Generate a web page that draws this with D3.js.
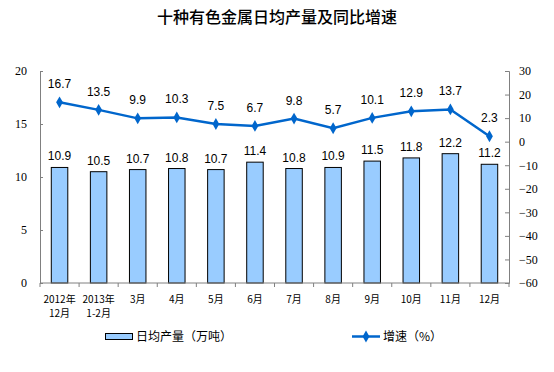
<!DOCTYPE html>
<html><head><meta charset="utf-8">
<script src="https://cdn.jsdelivr.net/npm/d3@7"></script>
<style>body{margin:0;background:#fff}</style>
</head><body>
<svg id="c" width="554" height="372"></svg>
<script>
const categories = [["2012年","12月"],["2013年","1-2月"],["3月"],["4月"],["5月"],["6月"],["7月"],["8月"],["9月"],["10月"],["11月"],["12月"]];
const output = [10.9,10.5,10.7,10.8,10.7,11.4,10.8,10.9,11.5,11.8,12.2,11.2];
const growth = [16.7,13.5,9.9,10.3,7.5,6.7,9.8,5.7,10.1,12.9,13.7,2.3];
const leftTicks = [0,5,10,15,20];
const rightTicks = [30,20,10,0,-10,-20,-30,-40,-50,-60];

const svg = d3.select("#c");
const L = 40, R = 509, T = 71, B = 283;
const idx = d3.range(categories.length);
const x = d3.scaleBand().domain(idx).range([L, R]).paddingInner(0).paddingOuter(0);
const yL = d3.scaleLinear().domain([0,20]).range([B,T]);
const yR = d3.scaleLinear().domain([-60,30]).range([B,T]);
const gray = "#808080";
const blue = "#0066CC";

svg.append("text").attr("x",277).attr("y",23).attr("text-anchor","middle")
  .attr("font-family","'Noto Sans CJK SC'").attr("font-size",16).attr("font-weight",500)
  .attr("fill","#000").text("十种有色金属日均产量及同比增速");

// bars
const bw = 16.5;
svg.selectAll("rect.bar").data(output).enter().append("rect")
  .attr("x",(d,i)=>x(i)+x.bandwidth()/2-bw/2).attr("y",d=>yL(d))
  .attr("width",bw).attr("height",d=>B-yL(d))
  .attr("fill","#99CCFF").attr("stroke","#000").attr("stroke-width",1);

svg.selectAll("text.bl").data(output).enter().append("text")
  .attr("x",(d,i)=>x(i)+x.bandwidth()/2).attr("y",d=>yL(d)-7)
  .attr("text-anchor","middle").attr("font-family","'Liberation Sans',Arial").attr("font-size",12)
  .attr("fill","#000").text(d=>d.toFixed(1));

// left axis
const gL = svg.append("g").attr("transform",`translate(${L},0)`)
  .call(d3.axisRight(yL).tickValues(leftTicks).tickSize(3).tickFormat(d3.format("d")));
gL.select(".domain").attr("stroke",gray);
gL.selectAll(".tick line").attr("stroke",gray);
gL.selectAll(".tick text").attr("x",-13).attr("text-anchor","end")
  .attr("font-family","'Liberation Serif','Times New Roman'").attr("font-size",12).attr("fill","#000");

// right axis
const gR = svg.append("g").attr("transform",`translate(${R},0)`)
  .call(d3.axisLeft(yR).tickValues(rightTicks).tickSize(4).tickFormat(d3.format("d")));
gR.select(".domain").attr("stroke",gray);
gR.selectAll(".tick line").attr("stroke",gray);
gR.selectAll(".tick text").attr("x",10).attr("text-anchor","start")
  .attr("font-family","'Liberation Serif','Times New Roman'").attr("font-size",12).attr("fill","#000");

// x axis
svg.append("line").attr("x1",L).attr("x2",R).attr("y1",B).attr("y2",B).attr("stroke",gray);
svg.selectAll("line.xt").data(d3.range(categories.length+1)).enter().append("line")
  .attr("x1",i=>L+i*x.step()).attr("x2",i=>L+i*x.step()).attr("y1",B).attr("y2",B+4).attr("stroke",gray);
const xl = svg.selectAll("text.xl").data(categories).enter().append("text")
  .attr("text-anchor","middle").attr("font-family","'Noto Sans CJK SC'").attr("font-size",10).attr("fill","#000");
xl.each(function(d,i){
  const t = d3.select(this);
  d.forEach((s,j)=>t.append("tspan").attr("x",x(i)+x.bandwidth()/2).attr("y",303+j*14).text(s));
});

// line
const line = d3.line().x((d,i)=>x(i)+x.bandwidth()/2).y(d=>yR(d));
svg.append("path").datum(growth).attr("d",line).attr("fill","none").attr("stroke",blue).attr("stroke-width",2.5);
const diamond = d3.symbol().type(d3.symbolDiamond).size(40);
svg.selectAll("path.mk").data(growth).enter().append("path")
  .attr("d",diamond).attr("transform",(d,i)=>`translate(${x(i)+x.bandwidth()/2},${yR(d)})`).attr("fill",blue);
svg.selectAll("text.gl").data(growth).enter().append("text")
  .attr("x",(d,i)=>x(i)+x.bandwidth()/2).attr("y",d=>yR(d)-14)
  .attr("text-anchor","middle").attr("font-family","'Liberation Sans',Arial").attr("font-size",12)
  .attr("fill","#000").text(d=>d.toFixed(1));

// legend
svg.append("rect").attr("x",105.5).attr("y",333.5).attr("width",27).attr("height",6)
  .attr("fill","#99CCFF").attr("stroke","#000");
svg.append("text").attr("x",136).attr("y",341).attr("font-family","'Noto Sans CJK SC'").attr("font-size",12)
  .attr("fill","#000").text("日均产量（万吨）");
svg.append("line").attr("x1",352).attr("x2",380).attr("y1",336.5).attr("y2",336.5).attr("stroke",blue).attr("stroke-width",2.5);
svg.append("path").attr("d",diamond).attr("transform","translate(366,336.5)").attr("fill",blue);
svg.append("text").attr("x",383).attr("y",341).attr("font-family","'Noto Sans CJK SC'").attr("font-size",12)
  .attr("fill","#000").text("增速（%）");
</script>
</body></html>
